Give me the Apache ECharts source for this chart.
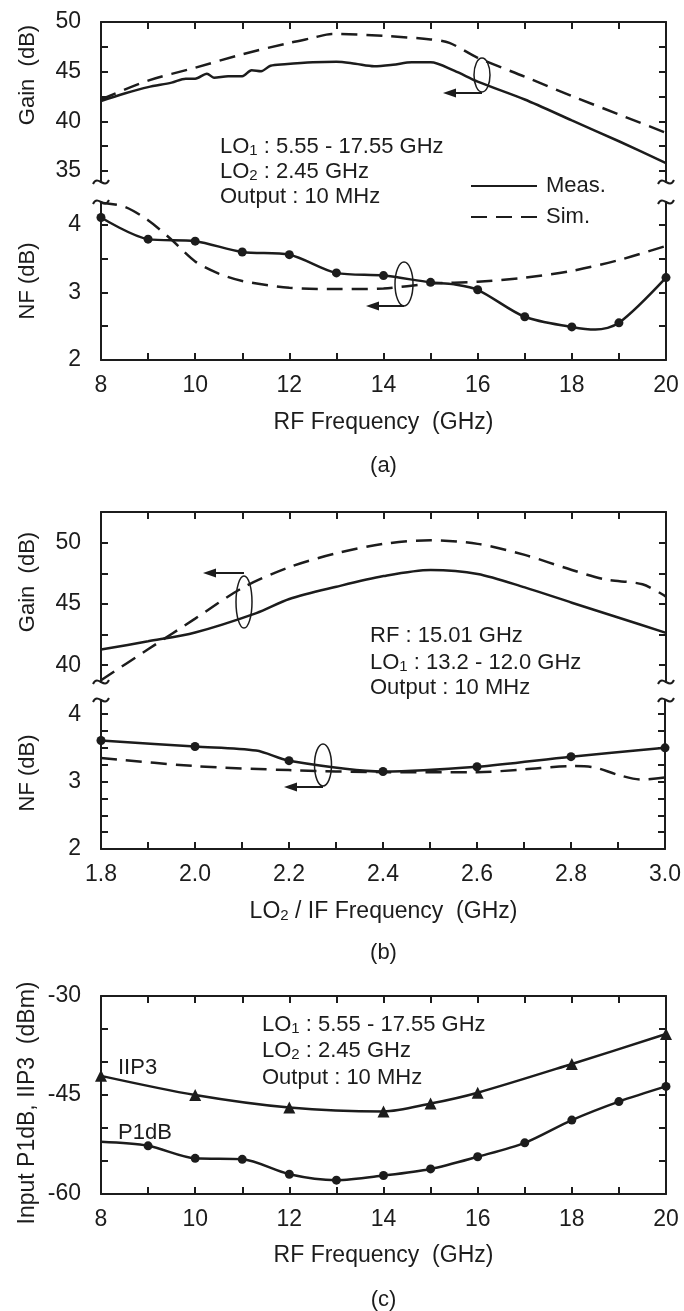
<!DOCTYPE html>
<html><head><meta charset="utf-8">
<script src="https://cdn.jsdelivr.net/npm/echarts@6/dist/echarts.min.js"></script>
<style>html,body{margin:0;padding:0;background:#fff}#c{width:684px;height:1311px}</style>
</head><body><div id="c"></div>
<script>
// ================= DATA =================
// (a) Gain vs RF frequency
const gainMeasA_x = [8, 8.5, 9, 9.5, 9.8, 10, 10.25, 10.4, 10.7, 11, 11.2, 11.4, 11.6, 11.9, 12.5, 13, 13.4, 13.8, 14.2, 14.6, 15, 15.5, 16, 17, 18, 19, 20];
const gainMeasA_y = [42.05, 42.8, 43.45, 43.9, 44.3, 44.3, 44.8, 44.4, 44.55, 44.55, 45.15, 45.05, 45.6, 45.75, 45.95, 46.0, 45.8, 45.55, 45.7, 45.95, 45.95, 45.1, 44.0, 42.2, 40.1, 38.0, 35.8];
const gainSimA_x = [8, 9, 10, 11, 12, 12.5, 12.9, 14, 15, 15.4, 16, 17, 18, 19, 20];
const gainSimA_y = [42.2, 44.1, 45.4, 46.75, 47.9, 48.4, 48.8, 48.6, 48.25, 47.9, 46.4, 44.5, 42.55, 40.7, 38.85];
// (a) NF vs RF frequency
const nfMeasA_x = [8, 9, 10, 11, 12, 13, 14, 15, 15.5, 16, 17, 18, 18.5, 19, 20];
const nfMeasA_y = [4.11, 3.79, 3.76, 3.6, 3.56, 3.29, 3.25, 3.15, 3.12, 3.04, 2.64, 2.49, 2.45, 2.55, 3.22];
const nfMeasA_marked = [8, 9, 10, 11, 12, 13, 14, 15, 16, 17, 18, 19, 20];
const nfSimA_x = [8, 8.5, 9, 9.5, 10, 10.5, 11, 12, 13, 14, 15, 16, 17, 18, 19, 20];
const nfSimA_y = [4.33, 4.27, 4.07, 3.78, 3.46, 3.28, 3.17, 3.07, 3.05, 3.06, 3.13, 3.16, 3.22, 3.32, 3.48, 3.69];
// (b) Gain vs LO2/IF frequency
const gainMeasB_x = [1.8, 1.9, 2.0, 2.13, 2.2, 2.3, 2.4, 2.5, 2.6, 2.7, 2.8, 2.9, 3.0];
const gainMeasB_y = [41.28, 41.95, 42.67, 44.25, 45.4, 46.4, 47.27, 47.77, 47.45, 46.35, 45.1, 43.87, 42.64];
const gainSimB_x = [1.8, 1.9, 2.0, 2.1, 2.2, 2.3, 2.4, 2.5, 2.6, 2.7, 2.8, 2.87, 2.95, 3.0];
const gainSimB_y = [38.77, 41.3, 43.8, 46.3, 48.0, 49.13, 49.9, 50.2, 49.9, 49.0, 47.77, 47.0, 46.6, 45.6];
// (b) NF vs LO2/IF frequency
const nfMeasB_x = [1.8, 2.0, 2.13, 2.2, 2.4, 2.6, 2.8, 3.0];
const nfMeasB_y = [3.61, 3.52, 3.46, 3.31, 3.15, 3.22, 3.37, 3.50];
const nfMeasB_marked = [1.8, 2.0, 2.2, 2.4, 2.6, 2.8, 3.0];
const nfSimB_x = [1.8, 2.0, 2.2, 2.4, 2.6, 2.7, 2.8, 2.85, 2.9, 2.95, 3.0];
const nfSimB_y = [3.35, 3.23, 3.17, 3.14, 3.14, 3.18, 3.23, 3.21, 3.10, 3.03, 3.06];
// (c) Input P1dB / IIP3 vs RF frequency
const iip3_x = [8, 10, 12, 14, 15, 16, 18, 20];
const iip3_y = [-42.1, -45.0, -46.9, -47.5, -46.3, -44.65, -40.3, -35.76];
const p1db_x = [8, 9, 10, 11, 12, 13, 14, 15, 16, 17, 18, 19, 20];
const p1db_y = [-52.1, -52.7, -54.6, -54.75, -57.0, -57.9, -57.2, -56.2, -54.35, -52.25, -48.8, -46.0, -43.7];
const p1db_marked = [9, 10, 11, 12, 13, 14, 15, 16, 17, 18, 19, 20];
// axis ticks / labels
const gainTicksA = [35, 37.5, 40, 42.5, 45, 47.5, 50];
const gainLabelsA = [35, 40, 45, 50];
const nfTicksA = [2, 2.5, 3, 3.5, 4];
const nfLabels = [2, 3, 4];
const gainTicksB = [40, 42.5, 45, 47.5, 50, 52.5];
const gainLabelsB = [40, 45, 50];
const nfTicksB = [2, 2.25, 2.5, 2.75, 3, 3.25, 3.5, 3.75, 4];
const pTicksC = [-60, -55, -50, -45, -40, -35, -30];
const pLabelsC = [-60, -45, -30];

// ================= CHART =================
const FONT = "'Liberation Sans', Arial, Helvetica, sans-serif";
const INK = '#1c1c1c';
const L = 101, R = 18;
const grids = [
  {left: L, right: R, top: 22, height: 160},
  {left: L, right: R, top: 202, height: 158},
  {left: L, right: R, top: 512, height: 170},
  {left: L, right: R, top: 700, height: 149},
  {left: L, right: R, top: 996, height: 198}
];
function xAx(g, pos, min, max, interval, fmt) {
  return {type: 'value', gridIndex: g, position: pos, min, max, interval,
    axisLine: {show: true, onZero: false, lineStyle: {color: INK, width: 2}},
    axisTick: {show: true, inside: true, length: 7, lineStyle: {color: INK, width: 2}},
    axisLabel: fmt ? {show: true, formatter: fmt, margin: 14, color: INK, fontSize: 23, fontFamily: FONT} : {show: false},
    splitLine: {show: false}};
}
function yAx(g, pos, min, max, ticks, labels) {
  return {type: 'value', gridIndex: g, position: pos, min, max,
    axisLine: {show: true, onZero: false, lineStyle: {color: INK, width: 2}},
    axisTick: {show: true, inside: true, length: 7, customValues: ticks, lineStyle: {color: INK, width: 2}},
    axisLabel: {show: pos === 'left', customValues: labels, margin: 20, color: INK, fontSize: 23, fontFamily: FONT},
    splitLine: {show: false}};
}
const rfFmt = v => (Math.round(v) % 2 === 0 ? String(Math.round(v)) : '');
const ifFmt = v => (Math.round(v * 10) % 2 === 0 ? v.toFixed(1) : '');

const xAxes = [
  xAx(0, 'top', 8, 20, 1, null),
  xAx(1, 'bottom', 8, 20, 1, rfFmt),
  xAx(2, 'top', 1.8, 3.0, 0.1, null),
  xAx(3, 'bottom', 1.8, 3.0, 0.1, ifFmt),
  xAx(4, 'bottom', 8, 20, 1, rfFmt),
  xAx(4, 'top', 8, 20, 1, null)
];
const yAxes = [
  yAx(0, 'left', 33.9, 50, gainTicksA, gainLabelsA), yAx(0, 'right', 33.9, 50, gainTicksA, []),
  yAx(1, 'left', 2, 4.34, nfTicksA, nfLabels), yAx(1, 'right', 2, 4.34, nfTicksA, []),
  yAx(2, 'left', 38.63, 52.5, gainTicksB, gainLabelsB), yAx(2, 'right', 38.63, 52.5, gainTicksB, []),
  yAx(3, 'left', 2, 4.21, nfTicksB, nfLabels), yAx(3, 'right', 2, 4.21, nfTicksB, []),
  yAx(4, 'left', -60, -30, pTicksC, pLabelsC), yAx(4, 'right', -60, -30, pTicksC, [])
];
const DASH = [16, 9];
function ser(name, xi, yi, xs, ys, dashed, symbol, marked) {
  return {name, type: 'line', xAxisIndex: xi, yAxisIndex: yi, smooth: 0.3,
    symbol: symbol || 'none', symbolSize: symbol === 'triangle' ? 12 : 9, showSymbol: !!symbol,
    itemStyle: {color: INK}, lineStyle: {color: INK, width: 2.5, type: dashed ? DASH : 'solid'},
    clip: false, silent: true,
    data: xs.map((x, i) => {
      const d = {value: [x, ys[i]]};
      if (symbol && marked && !marked.includes(x)) d.symbol = 'none';
      return d;
    })};
}
const series = [
  ser('Meas.', 0, 0, gainMeasA_x, gainMeasA_y, false),
  ser('Sim.', 0, 0, gainSimA_x, gainSimA_y, true),
  ser('NF Meas. (a)', 1, 2, nfMeasA_x, nfMeasA_y, false, 'circle', nfMeasA_marked),
  ser('NF Sim. (a)', 1, 2, nfSimA_x, nfSimA_y, true),
  ser('Gain Meas. (b)', 2, 4, gainMeasB_x, gainMeasB_y, false),
  ser('Gain Sim. (b)', 2, 4, gainSimB_x, gainSimB_y, true),
  ser('NF Meas. (b)', 3, 6, nfMeasB_x, nfMeasB_y, false, 'circle', nfMeasB_marked),
  ser('NF Sim. (b)', 3, 6, nfSimB_x, nfSimB_y, true),
  ser('IIP3', 4, 8, iip3_x, iip3_y, false, 'triangle'),
  ser('P1dB', 4, 8, p1db_x, p1db_y, false, 'circle', p1db_marked)
];

// ---- decorations ----
const G = [];
function txt(x, y, text, o) {
  o = o || {};
  G.push({type: 'text', x, y, rotation: o.rot || 0, silent: true,
    style: {text, fill: INK, fontSize: o.size || 22, fontFamily: FONT,
      align: o.align || 'left', verticalAlign: 'middle',
      rich: {s: {fontSize: 15, fontFamily: FONT, fill: INK, verticalAlign: 'bottom'}}}});
}
function brk(x, y) {
  G.push({type: 'bezierCurve', silent: true,
    shape: {x1: x - 8, y1: y + 2, cpx1: x - 3, cpy1: y - 8, cpx2: x + 3, cpy2: y + 8, x2: x + 8, y2: y - 2},
    style: {stroke: INK, lineWidth: 2, fill: null}});
}
function ell(cx, cy, rx, ry) {
  G.push({type: 'ellipse', silent: true, shape: {cx, cy, rx, ry}, style: {stroke: INK, lineWidth: 1.5, fill: null}});
}
function arrow(x1, x2, y) {
  G.push({type: 'line', silent: true, shape: {x1, y1: y, x2: x2 + 8, y2: y}, style: {stroke: INK, lineWidth: 2}});
  G.push({type: 'polygon', silent: true, shape: {points: [[x2, y], [x2 + 13, y - 4.5], [x2 + 13, y + 4.5]]}, style: {fill: INK}});
}
const XL = 101, XR = 666;
[182, 202, 682, 700].forEach(y => { brk(XL, y); brk(XR, y); });
ell(482, 75, 8, 17); arrow(482, 443, 93);
ell(404, 284, 9, 22); arrow(404, 366, 306);
ell(244, 602, 8, 26); arrow(244, 203, 573);
ell(323, 765, 8.5, 21); arrow(323, 284, 787);
// panel (a)
txt(220, 147, 'LO{s|1} : 5.55 - 17.55 GHz');
txt(220, 172, 'LO{s|2} : 2.45 GHz');
txt(220, 197, 'Output : 10 MHz');
txt(28, 75, 'Gain  (dB)', {rot: Math.PI / 2, align: 'center', size: 22});
txt(28, 281, 'NF (dB)', {rot: Math.PI / 2, align: 'center', size: 22});
txt(383.5, 423, 'RF Frequency  (GHz)', {align: 'center', size: 23});
txt(383.5, 466, '(a)', {align: 'center', size: 22});
// panel (b)
txt(370, 636, 'RF : 15.01 GHz');
txt(370, 663, 'LO{s|1} : 13.2 - 12.0 GHz');
txt(370, 688, 'Output : 10 MHz');
txt(28, 582, 'Gain  (dB)', {rot: Math.PI / 2, align: 'center', size: 22});
txt(28, 773, 'NF (dB)', {rot: Math.PI / 2, align: 'center', size: 22});
txt(383.5, 912, 'LO{s|2} / IF Frequency  (GHz)', {align: 'center', size: 23});
txt(383.5, 953, '(b)', {align: 'center', size: 22});
// panel (c)
txt(262, 1025, 'LO{s|1} : 5.55 - 17.55 GHz');
txt(262, 1051, 'LO{s|2} : 2.45 GHz');
txt(262, 1078, 'Output : 10 MHz');
txt(118, 1068, 'IIP3');
txt(118, 1133, 'P1dB');
txt(28, 1103, 'Input P1dB, IIP3  (dBm)', {rot: Math.PI / 2, align: 'center', size: 23});
txt(383.5, 1256, 'RF Frequency  (GHz)', {align: 'center', size: 23});
txt(383.5, 1300, '(c)', {align: 'center', size: 22});

const chart = echarts.init(document.getElementById('c'), null, {renderer: 'canvas'});
chart.setOption({
  animation: false,
  backgroundColor: '#fff',
  grid: grids,
  xAxis: xAxes,
  yAxis: yAxes,
  legend: {data: ['Meas.', 'Sim.'], orient: 'vertical', left: 465, top: 169, itemWidth: 66, itemHeight: 14, itemGap: 7,
    selectedMode: false, itemStyle: {color: 'rgba(0,0,0,0)', borderWidth: 0},
    textStyle: {fontSize: 22, fontFamily: FONT, color: INK, lineHeight: 24, padding: [0, 0, 0, 4]}},
  series,
  graphic: {elements: G}
});
</script></body></html>
